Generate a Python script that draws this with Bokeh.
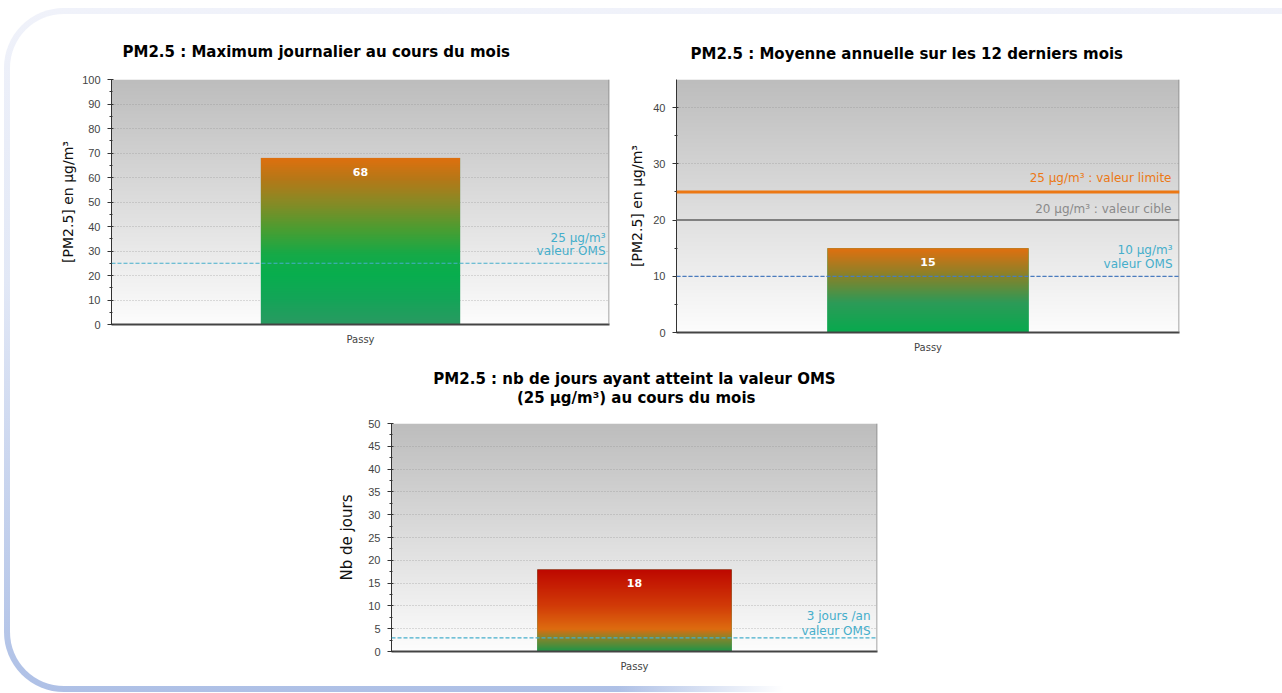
import numpy as np
from bokeh.plotting import figure
from bokeh.models import FactorRange, Range1d, Span, FixedTicker, Spacer, Title
from bokeh.layouts import row, column
from bokeh.embed import file_html
from bokeh.resources import INLINE
from bokeh.core.properties import value

# ---------------- data ----------------
stations = ["Passy"]
max_daily = [68]          # PM2.5 daily maximum of the month (µg/m3)
annual_mean = [15]        # PM2.5 mean over the last 12 months (µg/m3)
days_over = [18]          # number of days reaching the WHO value

oms_daily = 25
limit_annual = 25
target_annual = 20
oms_annual = 10
oms_days = 3

y1_ticks = [0, 10, 20, 30, 40, 50, 60, 70, 80, 90, 100]
y1_minor = [5, 15, 25, 35, 45, 55, 65, 75, 85, 95]
y2_ticks = [0, 10, 20, 30, 40]
y2_minor = [5, 15, 25, 35]
y3_ticks = [0, 5, 10, 15, 20, 25, 30, 35, 40, 45, 50]
y3_minor = [2.5, 7.5, 12.5, 17.5, 22.5, 27.5, 32.5, 37.5, 42.5, 47.5]

title1 = "PM2.5 : Maximum journalier au cours du mois"
title2 = "PM2.5 : Moyenne annuelle sur les 12 derniers mois"
title3_line1 = "PM2.5 : nb de jours ayant atteint la valeur OMS"
title3_line2 = "(25 µg/m³) au cours du mois"
ylabel_conc = "[PM2.5] en µg/m³"
ylabel_days = "Nb de jours"

BAR_W = 0.4
FONT = "DejaVu Sans"
TICK_FONT = "Liberation Sans"

# colour stops (fraction of bar height, rgb)
bg_stops = [(0.0, (253, 253, 253)), (1.0, (189, 189, 189))]
bar1_stops = [(0.0, (42, 154, 98)), (0.15, (20, 165, 88)), (0.3, (8, 174, 78)),
              (0.42, (22, 170, 72)), (0.57, (75, 158, 50)), (0.72, (132, 140, 38)),
              (0.87, (182, 120, 24)), (1.0, (224, 112, 14))]
bar2_stops = [(0.0, (8, 170, 78)), (0.35, (45, 155, 88)), (0.65, (130, 132, 45)),
              (1.0, (226, 112, 16))]
bar3_stops = [(0.0, (30, 150, 72)), (0.18, (150, 130, 40)), (0.27, (222, 108, 16)),
              (0.55, (210, 60, 8)), (1.0, (190, 8, 0))]


def gradient_image(stops, n=256):
    fr = np.linspace(0.0, 1.0, n)
    xs = [s[0] for s in stops]
    img = np.empty((n, 1), dtype=np.uint32)
    view = img.view(dtype=np.uint8).reshape((n, 1, 4))
    for c in range(3):
        view[:, 0, c] = np.interp(fr, xs, [s[1][c] for s in stops]).astype(np.uint8)
    view[:, 0, 3] = 255
    return img


def make_fig(title, ylabel, y_end, ticks, minor, frame_w, frame_h,
             left, top, right, bottom, title_align, title_offset, title_standoff,
             ylabel_size, ylabel_standoff, title_valign="bottom", line_height=1.0):
    p = figure(x_range=FactorRange(factors=stations, range_padding=0),
               y_range=Range1d(0, y_end),
               frame_width=frame_w, frame_height=frame_h,
               min_border_left=left, min_border_top=top,
               min_border_right=right, min_border_bottom=bottom,
               output_backend="svg", toolbar_location=None, title=None)
    p.outline_line_color = None
    p.border_fill_color = None
    p.background_fill_color = None
    t = Title(text=title, align=title_align, offset=title_offset,
              standoff=title_standoff, vertical_align=title_valign,
              text_font=FONT, text_font_size="15px",
              text_font_style="bold", text_color="#000000",
              text_line_height=line_height)
    p.add_layout(t, "above")

    # background gradient of the plot area
    p.image_rgba(image=[gradient_image(bg_stops)], x=0, y=0,
                 dw=len(stations), dh=y_end, level="image")

    p.xgrid.grid_line_color = None
    p.ygrid.grid_line_color = "#8c8c8c"
    p.ygrid.grid_line_alpha = 0.55
    p.ygrid.grid_line_dash = "1 2"

    ya = p.yaxis[0]
    ya.ticker = FixedTicker(ticks=ticks, minor_ticks=minor)
    ya.axis_line_color = "#333333"
    ya.major_tick_line_color = "#333333"
    ya.minor_tick_line_color = "#333333"
    ya.major_tick_out = 4
    ya.major_tick_in = 2
    ya.minor_tick_out = 2
    ya.minor_tick_in = 1
    ya.major_label_text_font = TICK_FONT
    ya.major_label_text_font_size = "11px"
    ya.major_label_text_color = "#444444"
    ya.major_label_standoff = 7
    ya.axis_label = ylabel
    ya.axis_label_text_font = FONT
    ya.axis_label_text_font_size = ylabel_size
    ya.axis_label_text_font_style = "normal"
    ya.axis_label_text_color = "#111111"
    ya.axis_label_standoff = ylabel_standoff

    xa = p.xaxis[0]
    xa.axis_line_color = "#444444"
    xa.axis_line_width = 2
    xa.major_tick_line_color = None
    xa.minor_tick_line_color = None
    xa.major_tick_out = 0
    xa.major_tick_in = 0
    xa.major_label_text_font = FONT
    xa.major_label_text_font_size = "10px"
    xa.major_label_text_color = "#444444"
    xa.major_label_standoff = 9

    # soft shadow on the right edge of the plot frame
    p.add_layout(Span(location=len(stations), dimension="height",
                      line_color="#8a8a8a", line_width=3, line_alpha=0.5))
    return p


def add_bars(p, vals, stops):
    p.vbar(x=stations, top=vals, width=BAR_W, bottom=0,
           fill_color="#%02x%02x%02x" % stops[0][1], line_color=None)
    for i, v in enumerate(vals):
        p.image_rgba(image=[gradient_image(stops)], x=i + 0.5 - BAR_W / 2, y=0,
                     dw=BAR_W, dh=v)
    p.text(x=stations, y=vals, text=[str(v) for v in vals], y_offset=14,
           text_align="center", text_baseline="middle", text_color="white",
           text_font=value(FONT), text_font_size="11px", text_font_style="bold")


def add_note(p, y, txt, color, x_off, y_off, size="12px"):
    p.text(x=[len(stations)], y=[y], text=[txt], x_offset=x_off, y_offset=y_off,
           text_align="right", text_baseline="middle", text_color=color,
           text_font=value(FONT), text_font_size=size)


# ---------------- chart 1 ----------------
p1 = make_fig(title1, ylabel_conc, 100, y1_ticks, y1_minor, 498, 245,
              101, 65, 16, 29, "left", 11, 37, "14px", 3)
add_bars(p1, max_daily, bar1_stops)
p1.add_layout(Span(location=oms_daily, dimension="width", line_color="#45aecb",
                   line_dash="4 2", line_width=1.2))
add_note(p1, oms_daily, "25 µg/m³", "#45aecb", -4, -25)
add_note(p1, oms_daily, "valeur OMS", "#45aecb", -4, -12)

# ---------------- chart 2 ----------------
p2 = make_fig(title2, ylabel_conc, 45, y2_ticks, y2_minor, 503, 253,
              51, 65, 20, 21, "left", 14, 33, "14px", 5)
add_bars(p2, annual_mean, bar2_stops)
p2.add_layout(Span(location=limit_annual, dimension="width", line_color="#ec7814",
                   line_width=3))
p2.add_layout(Span(location=target_annual, dimension="width", line_color="#808080",
                   line_width=2))
p2.add_layout(Span(location=oms_annual, dimension="width", line_color="#4a7cc0",
                   line_dash="4 2", line_width=1.2))
add_note(p2, limit_annual, "25 µg/m³ : valeur limite", "#ec7814", -8, -14)
add_note(p2, target_annual, "20 µg/m³ : valeur cible", "#8a8a8a", -8, -11)
add_note(p2, oms_annual, "10 µg/m³", "#45aecb", -7, -26)
add_note(p2, oms_annual, "valeur OMS", "#45aecb", -7, -12)

# ---------------- chart 3 ----------------
# second title line is centred under the first one with no-break spaces
title3 = title3_line1 + "\n" + "\u00a0" * 16 + title3_line2
p3 = make_fig(title3, ylabel_days, 50, y3_ticks, y3_minor, 486, 228,
              60, 68, 20, 37, "center", 0, 29, "15px", 9,
              title_valign="top", line_height=1.05)
add_bars(p3, days_over, bar3_stops)
p3.add_layout(Span(location=oms_days, dimension="width", line_color="#45aecb",
                   line_dash="4 2", line_width=1.2))
add_note(p3, oms_days, "3 jours /an", "#45aecb", -7, -22)
add_note(p3, oms_days, "valeur OMS", "#45aecb", -7, -7)

frame_styles = {
    "margin": "8px 0 0 4px",
    "box-sizing": "border-box",
    "border-style": "solid",
    "border-color": "transparent",
    "border-width": "6px 0 6px 6px",
    "border-radius": "60px 0 0 60px",
    "background": ("linear-gradient(#ffffff, #ffffff) padding-box, "
                   "linear-gradient(to right, rgba(255,255,255,0) 0%, rgba(255,255,255,0) 48%, #ffffff 61%) "
                   "left bottom / 100% 50% no-repeat border-box, "
                   "linear-gradient(to bottom, #f0f2fa 0%, #e2e8f6 40%, #aec0e6 100%) border-box"),
}

layout = column(row(p1, p2), row(Spacer(width=321, height=333), p3),
                width=1278, height=684, styles=frame_styles)

open("out.html", "w").write(file_html(layout, INLINE))
